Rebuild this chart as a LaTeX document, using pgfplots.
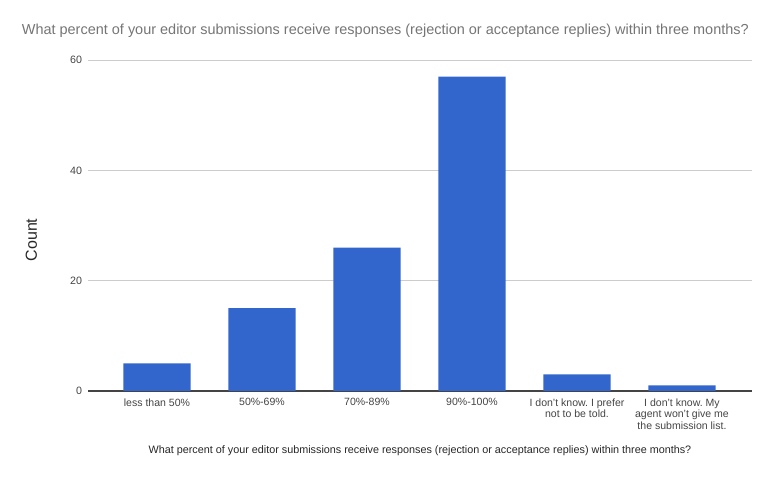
\documentclass[border=0pt]{standalone}
\usepackage{pgfplots}
\pgfplotsset{compat=1.18}
\usepackage{fontspec}
\setmainfont{Liberation Sans}
\frenchspacing
\definecolor{barblue}{HTML}{3366CC}
\definecolor{titlegray}{HTML}{757575}
\definecolor{tickgray}{HTML}{444444}
\definecolor{gridgray}{HTML}{CCCCCC}
\begin{document}
\begin{tikzpicture}[x=1pt,y=1pt]
\path[use as bounding box] (0,0) rectangle (578.25,357.75);
\begin{axis}[
  at={(66pt,64.5pt)}, anchor=south west,
  scale only axis, width=498pt, height=248.25pt,
  ybar, bar width=0.64,
  xmin=-0.657, xmax=5.667, ymin=0, ymax=60,
  xtick={0,1,2,3,4,5},
  xticklabels={less than 50\%, 50\%-69\%, 70\%-89\%, 90\%-100\%,
    {I don't know. I prefer\\not to be told.},
    {I don't know. My\\agent won't give me\\the submission list.}},
  xticklabel style={font=\fontsize{7.9}{8.8}\selectfont, text=tickgray, align=center, anchor=north, yshift=-2pt},
  ytick={20,40,60},
  extra y ticks={0},
  extra y tick style={grid style={draw=tickgray, line width=0.8pt}},
  yticklabel style={font=\fontsize{8}{9}\selectfont, text=tickgray, xshift=-1pt},
  /pgf/number format/assume math mode=true,
  ymajorgrids, grid style={draw=gridgray, line width=0.6pt},
  major tick length=0pt,
  axis line style={draw=none},
  clip=false,
]
\addplot[fill=barblue, draw=none] coordinates {(0,5) (1,15) (2,26) (3,57) (4,3) (5,1)};
\end{axis}
\node[text=titlegray, font=\fontsize{10.85}{12}\selectfont] at (289,334.5) {What percent of your editor submissions receive responses (rejection or acceptance replies) within three months?};
\node[rotate=90, text=black!85, font=\fontsize{12}{14}\selectfont] at (23.5,177.75) {Count};
\node[text=black!85, font=\fontsize{8.1}{9}\selectfont] at (315,19.5) {What percent of your editor submissions receive responses (rejection or acceptance replies) within three months?};
\end{tikzpicture}
\end{document}
